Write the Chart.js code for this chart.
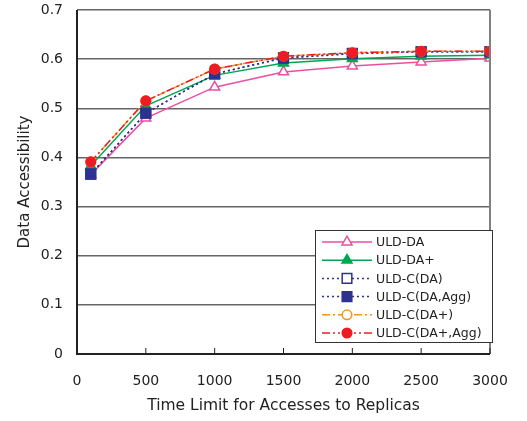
<!DOCTYPE html>
<html>
<head>
<meta charset="utf-8">
<script src="https://cdn.jsdelivr.net/npm/chart.js@4/dist/chart.umd.min.js"></script>
<style>
	html, body { margin: 0; padding: 0; background: #fff; }
	#wrap { width: 527px; height: 421px; }
</style>
</head>
<body>
<div id="wrap"><canvas id="c" width="527" height="421"></canvas></div>
<script>
var FONT = '"DejaVu Sans", "Noto Sans", sans-serif';

// x values (time limit)
var timeLimits = [100, 500, 1000, 1500, 2000, 2500, 3000];
var xTicks = [0, 500, 1000, 1500, 2000, 2500, 3000];
var yTicks = [0, 0.1, 0.2, 0.3, 0.4, 0.5, 0.6, 0.7];

// series
var uldDA = [0.365, 0.480, 0.543, 0.574, 0.586, 0.594, 0.602];
var uldDAPlus = [0.383, 0.505, 0.567, 0.592, 0.601, 0.606, 0.608];
var uldCDA = [0.366, 0.490, 0.570, 0.603, 0.612, 0.615, 0.615];
var uldCDAAgg = [0.366, 0.490, 0.570, 0.602, 0.611, 0.615, 0.615];
var uldCDAPlus = [0.391, 0.515, 0.580, 0.606, 0.613, 0.616, 0.616];
var uldCDAPlusAgg = [0.391, 0.515, 0.580, 0.606, 0.613, 0.616, 0.616];

var labels = ['ULD-DA', 'ULD-DA+', 'ULD-C(DA)', 'ULD-C(DA,Agg)', 'ULD-C(DA+)', 'ULD-C(DA+,Agg)'];

function pts(ys) {
	return timeLimits.map(function(x, i) { return {x: x, y: ys[i]}; });
}

function series(i, ys, color, style, filled, dash, radius, order) {
	return {
		label: labels[i],
		data: pts(ys),
		borderColor: color,
		backgroundColor: filled ? color : '#ffffff',
		pointBorderColor: color,
		pointBackgroundColor: filled ? color : '#ffffff',
		pointStyle: style,
		pointRadius: radius,
		pointBorderWidth: 1.5,
		borderWidth: 1.5,
		borderDash: dash,
		tension: 0,
		fill: false,
		order: order
	};
}

var datasets = [
	series(0, uldDA, '#ec4fa0', 'triangle', false, [], 5.8, 6),
	series(1, uldDAPlus, '#00a651', 'triangle', true, [], 5.8, 5),
	series(2, uldCDA, '#2e3192', 'rect', false, [2, 3], 6.8, 4),
	series(3, uldCDAAgg, '#2e3192', 'rect', true, [2, 3], 6.8, 3),
	series(4, uldCDAPlus, '#f7941d', 'circle', false, [8, 3, 2, 3], 4.8, 2),
	series(5, uldCDAPlusAgg, '#ed1c24', 'circle', true, [8, 3, 2, 3, 2, 3], 4.8, 1)
];

// legend box drawn inside the plot, bottom right
var boxLegend = {
	id: 'boxLegend',
	afterDraw: function(chart) {
		var ctx = chart.ctx;
		var x0 = 315, y0 = 230, w = 177, h = 112;
		ctx.save();
		ctx.fillStyle = '#ffffff';
		ctx.fillRect(x0, y0, w, h);
		ctx.strokeStyle = '#333';
		ctx.lineWidth = 1;
		ctx.strokeRect(x0 + 0.5, y0 + 0.5, w, h);
		datasets.forEach(function(ds, i) {
			var cy = 242 + i * 18.2;
			ctx.strokeStyle = ds.borderColor;
			ctx.lineWidth = ds.borderWidth;
			ctx.setLineDash(ds.borderDash);
			ctx.beginPath();
			ctx.moveTo(322, cy);
			ctx.lineTo(372, cy);
			ctx.stroke();
			ctx.setLineDash([]);
			ctx.fillStyle = ds.pointBackgroundColor;
			ctx.strokeStyle = ds.pointBorderColor;
			Chart.helpers.drawPoint(ctx, {
				pointStyle: ds.pointStyle,
				radius: ds.pointRadius,
				borderWidth: ds.pointBorderWidth,
				rotation: 0
			}, 347, cy);
			ctx.fillStyle = '#222';
			ctx.font = '12.5px ' + FONT;
			ctx.textBaseline = 'middle';
			ctx.fillText(ds.label, 376, cy + 1);
		});
		ctx.restore();
	}
};

// plot frame: black left/bottom, gray top/right
var frame = {
	id: 'frame',
	afterDatasetsDraw: function(chart) {
		var a = chart.chartArea, ctx = chart.ctx;
		ctx.save();
		ctx.lineWidth = 2;
		ctx.strokeStyle = '#808080';
		ctx.beginPath();
		ctx.moveTo(a.right, a.top);
		ctx.lineTo(a.right, a.bottom);
		ctx.stroke();
		ctx.strokeStyle = '#222';
		ctx.beginPath();
		ctx.moveTo(a.left, a.top);
		ctx.lineTo(a.left, a.bottom);
		ctx.lineTo(a.right, a.bottom);
		ctx.stroke();
		// x ticks pointing up
		ctx.lineWidth = 1;
		xTicks.forEach(function(v) {
			var px = chart.scales.x.getPixelForValue(v);
			ctx.beginPath();
			ctx.moveTo(px, a.bottom);
			ctx.lineTo(px, a.bottom - 6);
			ctx.stroke();
		});
		ctx.restore();
	}
};

new Chart(document.getElementById('c'), {
	type: 'line',
	data: {datasets: datasets},
	options: {
		responsive: false,
		animation: false,
		layout: {padding: {top: 10, right: 37, left: 0, bottom: 0}},
		plugins: {
			legend: {display: false},
			tooltip: {enabled: false}
		},
		scales: {
			x: {
				type: 'linear',
				min: 0,
				max: 3000,
				afterBuildTicks: function(s) { s.ticks = xTicks.map(function(v) { return {value: v}; }); },
				afterFit: function(s) { s.height = 67; s.paddingLeft = 0; s.paddingRight = 0; },
				grid: {display: false, drawTicks: false},
				border: {display: false},
				ticks: {
					color: '#222',
					font: {family: FONT, size: 14},
					padding: 19,
					maxRotation: 0,
					callback: function(v) { return String(v); }
				},
				title: {display: true, text: 'Time Limit for Accesses to Replicas', color: '#222', font: {family: FONT, size: 15.5}, padding: {top: 0, bottom: 6}}
			},
			y: {
				min: 0,
				max: 0.7,
				afterBuildTicks: function(s) { s.ticks = yTicks.map(function(v) { return {value: v}; }); },
				afterFit: function(s) { s.width = 77; s.paddingTop = 0; s.paddingBottom = 0; },
				grid: {color: '#666', lineWidth: 1.5, drawTicks: false},
				border: {display: false},
				ticks: {
					color: '#222',
					font: {family: FONT, size: 14},
					padding: 14,
					callback: function(v) { return v === 0 ? '0' : v.toFixed(1); }
				},
				title: {display: true, text: 'Data Accessibility', color: '#222', font: {family: FONT, size: 15}, padding: {top: 16, bottom: 0}}
			}
		}
	},
	plugins: [frame, boxLegend]
});
</script>
</body>
</html>
